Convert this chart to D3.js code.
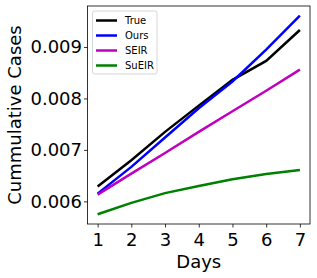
<!DOCTYPE html>
<html><head><meta charset="utf-8">
<script src="https://cdn.jsdelivr.net/npm/d3@7"></script>
<style>body{margin:0;background:#fff}svg{display:block}text{font-family:"DejaVu Sans",sans-serif}</style>
</head><body>
<script>
const days = [1,2,3,4,5,6,7];
const trueVals = [0.00629,0.00680,0.00735,0.00786,0.00836,0.00873,0.00933];
const oursVals = [0.00615,0.00667,0.00724,0.00781,0.00833,0.00895,0.00961];
const seirVals = [0.00613,0.00654,0.00694,0.00735,0.00775,0.00815,0.00856];
const sueirVals = [0.00575,0.00597,0.00616,0.00630,0.00643,0.00653,0.00661];
const seriesNames = ["True","Ours","SEIR","SuEIR"];
const seriesColors = ["#000000","#0000ff","#bf00bf","#008000"];
const yTicks = [0.006,0.007,0.008,0.009];

const W=317,H=278;
const m={l:87.5,r:7,t:6,b:54};
const svg=d3.select("body").append("svg").attr("width",W).attr("height",H);
const x=d3.scaleLinear().domain([0.7,7.3]).range([m.l,W-m.r]);
const y=d3.scaleLinear().domain([0.005560,0.009796]).range([H-m.b,m.t]);

const series=[trueVals,oursVals,seirVals,sueirVals];
const line=d3.line().x((d,i)=>x(days[i])).y(d=>y(d));
series.forEach((s,i)=>{
  svg.append("path").datum(s).attr("d",line).attr("fill","none")
    .attr("stroke",seriesColors[i]).attr("stroke-width",2.5);
});

const xa=svg.append("g").attr("transform",`translate(0,${H-m.b})`)
  .call(d3.axisBottom(x).tickValues(days).tickFormat(d3.format("d")).tickSize(3.5).tickSizeOuter(0));
const ya=svg.append("g").attr("transform",`translate(${m.l},0)`)
  .call(d3.axisLeft(y).tickValues(yTicks).tickFormat(d3.format(".3f")).tickSize(3.5).tickSizeOuter(0));
[xa,ya].forEach(a=>{a.select(".domain").remove();a.selectAll("text").attr("font-size",18).attr("fill","#000").style("font-family","DejaVu Sans");a.selectAll("line").attr("stroke","#000").attr("stroke-width",0.8);});
xa.selectAll("text").attr("dy","0.85em").attr("y",7);
ya.selectAll("text").attr("x",-5.5);

svg.append("rect").attr("x",m.l).attr("y",m.t).attr("width",W-m.r-m.l).attr("height",H-m.b-m.t)
  .attr("fill","none").attr("stroke","#000").attr("stroke-width",0.8);

svg.append("text").attr("x",(m.l+W-m.r)/2).attr("y",268).attr("text-anchor","middle")
  .attr("font-size",18).text("Days");
svg.append("text").attr("transform",`translate(21,${(m.t+H-m.b)/2}) rotate(-90)`).attr("text-anchor","middle")
  .attr("font-size",18).text("Cummulative Cases");

const lg=svg.append("g");
lg.append("rect").attr("x",92.5).attr("y",11).attr("width",64.5).attr("height",63).attr("rx",2)
  .attr("fill","#fff").attr("fill-opacity",0.8).attr("stroke","#ccc").attr("stroke-width",0.8);
seriesNames.forEach((n,i)=>{
  const yy=20.5+i*15;
  lg.append("line").attr("x1",96).attr("x2",117).attr("y1",yy).attr("y2",yy)
    .attr("stroke",seriesColors[i]).attr("stroke-width",2.5);
  lg.append("text").attr("x",125).attr("y",yy+3.5).attr("font-size",10).text(n);
});
</script>
</body></html>
